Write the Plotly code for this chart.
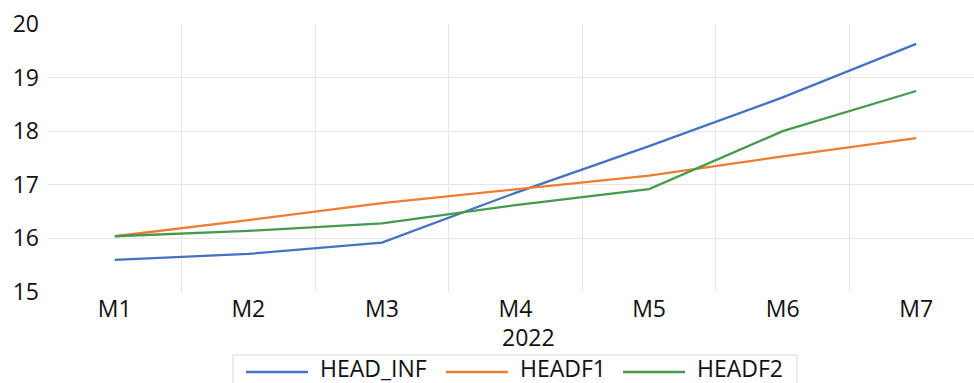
import plotly.graph_objects as go

# Monthly series for 2022
months = ["M1", "M2", "M3", "M4", "M5", "M6", "M7"]
head_inf = [15.60, 15.71, 15.92, 16.85, 17.72, 18.63, 19.63]
headf1 = [16.04, 16.34, 16.66, 16.92, 17.17, 17.53, 17.87]
headf2 = [16.04, 16.14, 16.28, 16.62, 16.92, 18.00, 18.75]

series_names = ["HEAD_INF", "HEADF1", "HEADF2"]
series_values = [head_inf, headf1, headf2]
series_colors = ["#4472C4", "#ED7D31", "#449A4E"]

y_ticks = [15, 16, 17, 18, 19, 20]
year_label = "2022"

W, H = 974, 383
ML, MR, MT, MB = 48, 0, 24, 91
FONT = "Open Sans, Noto Sans, sans-serif"
FS = 23
TXT = "#111111"
GRID = "#E6E6E6"

xpos = list(range(len(months)))

fig = go.Figure()
for name, vals, col in zip(series_names, series_values, series_colors):
    fig.add_trace(go.Scatter(
        x=xpos, y=vals, name=name, mode="lines",
        line=dict(color=col, width=2.3),
        showlegend=False,
    ))

plot_w = W - ML - MR
plot_h = H - MT - MB


def px_to_paper_x(px):
    return (px - ML) / plot_w


def px_to_paper_y(py):
    return (H - MB - py) / plot_h


# Legend drawn below the axis, framed with a light border
legend_left, legend_right, legend_top, legend_bottom = 233, 797, 355, 400
legend_line_starts = [246, 446, 623]
legend_line_len = 62
legend_text_gap = 11
legend_cy = 368

shapes = [dict(
    type="rect", xref="paper", yref="paper",
    x0=px_to_paper_x(legend_left), x1=px_to_paper_x(legend_right),
    y0=px_to_paper_y(legend_bottom), y1=px_to_paper_y(legend_top),
    line=dict(color="#D9D9D9", width=1), fillcolor="rgba(0,0,0,0)",
    layer="above",
)]
annotations = []
for name, col, x0 in zip(series_names, series_colors, legend_line_starts):
    shapes.append(dict(
        type="line", xref="paper", yref="paper",
        x0=px_to_paper_x(x0), x1=px_to_paper_x(x0 + legend_line_len),
        y0=px_to_paper_y(legend_cy + 4), y1=px_to_paper_y(legend_cy + 4),
        line=dict(color=col, width=2.5),
    ))
    annotations.append(dict(
        text=name, xref="paper", yref="paper",
        x=px_to_paper_x(x0 + legend_line_len + legend_text_gap),
        y=px_to_paper_y(legend_cy),
        xanchor="left", yanchor="middle", showarrow=False, borderpad=0,
        font=dict(family=FONT, size=FS, color=TXT),
    ))

annotations.append(dict(
    text=year_label, xref="x", yref="paper",
    x=3.1, y=px_to_paper_y(337),
    xanchor="center", yanchor="middle", showarrow=False,
    font=dict(family=FONT, size=FS, color=TXT),
))

fig.update_layout(
    width=W, height=H,
    margin=dict(l=ML, r=MR, t=MT, b=MB, autoexpand=False),
    paper_bgcolor="white", plot_bgcolor="white",
    font=dict(family=FONT, size=FS, color=TXT),
    shapes=shapes, annotations=annotations,
    xaxis=dict(
        range=[-0.5, 6.5 - 9 / 133.5],
        tickmode="array", tickvals=xpos, ticktext=months,
        showgrid=False, zeroline=False, showline=False, ticks="",
        ticklabelstandoff=1,
        minor=dict(tickmode="array",
                   tickvals=[i + 0.5 for i in xpos[:-1]],
                   showgrid=True, gridcolor=GRID, gridwidth=1, ticks=""),
    ),
    yaxis=dict(
        range=[15, 20],
        tickmode="array", tickvals=y_ticks,
        showgrid=False, zeroline=False, showline=False, ticks="",
        ticklabelstandoff=8,
        minor=dict(tickmode="array", tickvals=y_ticks[1:-1],
                   showgrid=True, gridcolor=GRID, gridwidth=1, ticks=""),
    ),
)

fig.write_html("out.html")
